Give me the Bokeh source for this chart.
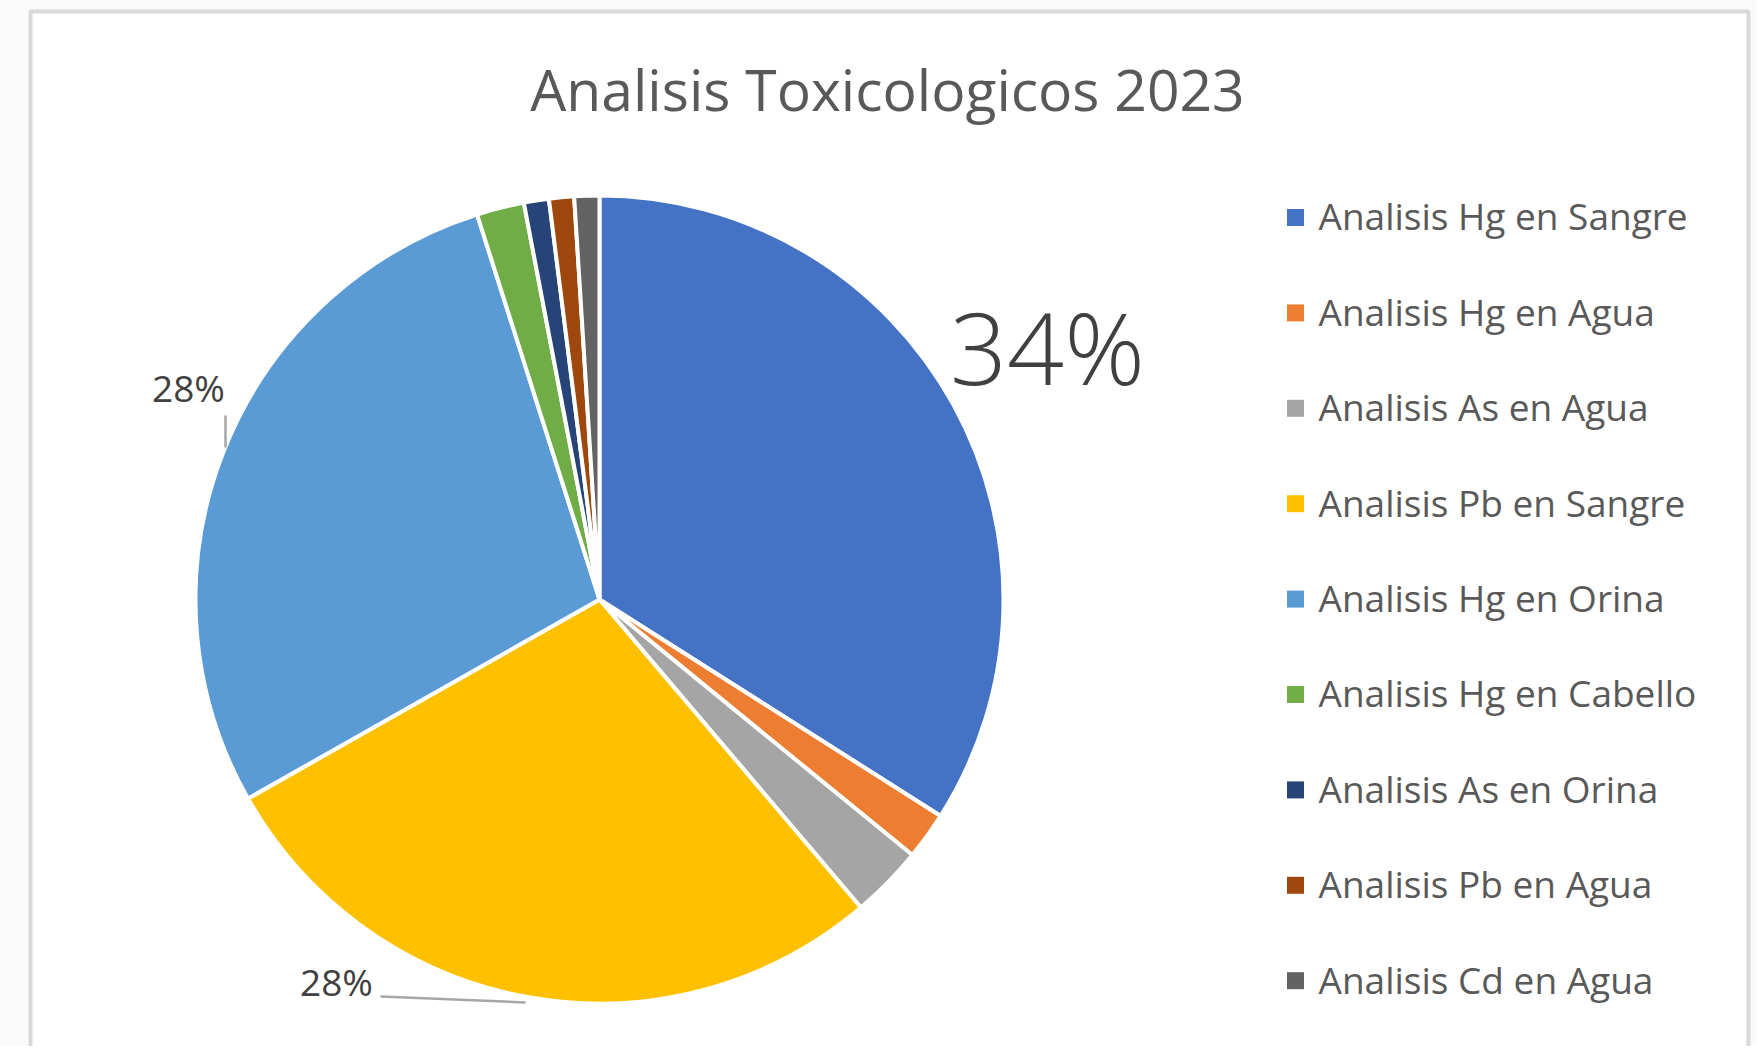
import numpy as np
from bokeh.plotting import figure
from bokeh.models import Range1d, ColumnDataSource
from bokeh.core.properties import value
from bokeh.embed import file_html
from bokeh.resources import INLINE

# ---------------- data ----------------
title = "Analisis Toxicologicos 2023"
categories = [
    "Analisis Hg en Sangre",
    "Analisis Hg en Agua",
    "Analisis As en Agua",
    "Analisis Pb en Sangre",
    "Analisis Hg en Orina",
    "Analisis Hg en Cabello",
    "Analisis As en Orina",
    "Analisis Pb en Agua",
    "Analisis Cd en Agua",
]
shares = [34.0, 1.9, 2.9, 28.0, 28.3, 1.9, 1.0, 1.0, 1.0]
colors = ["#4472C4", "#ED7D31", "#A5A5A5", "#FFC000", "#5B9BD5",
          "#70AD47", "#264478", "#9E480E", "#636363"]
labeled = [0, 3, 4]  # slices that carry a data label

# ---------------- layout ----------------
W, H = 1756, 1046
def X(px):
    return px
def Y(py):
    return H - py

BASE_SHIFT = 0.42  # rendered baseline correction (fraction of font size)
def TY(py, fs):
    return Y(py - BASE_SHIFT * fs)

FONT = value("Open Sans")
TXT = "#595959"

p = figure(width=W, height=H, x_range=Range1d(0, W), y_range=Range1d(0, H),
           output_backend="svg", toolbar_location=None, min_border=0)
p.axis.visible = False
p.grid.visible = False
p.outline_line_color = None
p.background_fill_color = "#fafafa"
p.border_fill_color = "#fafafa"

# chart area
p.quad(left=X(30), right=X(1748), top=Y(11), bottom=Y(1080),
       fill_color="white", line_color="#d9d9d9", line_width=4)

# title
p.text(x=[X(887)], y=[TY(112, 57)], text=[title], text_font=FONT,
       text_font_size="57px", text_color=TXT, text_align="center",
       text_baseline="alphabetic")

# pie
cx, cy, r = X(599), Y(599), 404
vals = np.array(shares, dtype=float)
ang = vals / vals.sum() * 2 * np.pi
cum = np.concatenate([[0.0], np.cumsum(ang)])
start = np.pi / 2 - cum[:-1]
end = np.pi / 2 - cum[1:]
src = ColumnDataSource(dict(start=start, end=end, color=colors, cat=categories))
p.wedge(x=cx, y=cy, radius=r, start_angle="start", end_angle="end",
        direction="clock", fill_color="color", line_color="white",
        line_width=4, source=src)

# data labels
pct = [f"{round(v / vals.sum() * 100):.0f}%" for v in vals]
label_pos = {0: (1048, 387, 100), 4: (188, 403, 37), 3: (336, 997, 37)}
for i in labeled:
    lx, ly, fs = label_pos[i]
    p.text(x=[X(lx)], y=[TY(ly, fs)], text=[pct[i]], text_font=FONT,
           text_font_size=f"{fs}px", text_color="#404040", text_align="center",
           text_baseline="alphabetic")

# leader lines
p.line(x=[X(225), X(225)], y=[Y(415), Y(447)], line_color="#a6a6a6", line_width=2.5)
p.line(x=[X(380), X(525)], y=[Y(996), Y(1002)], line_color="#a6a6a6", line_width=2.5)

# legend
row0, step = 217, 95.4
for i, (c, col) in enumerate(zip(categories, colors)):
    yc = row0 + i * step
    p.rect(x=[X(1295)], y=[Y(yc)], width=17, height=17, fill_color=col,
           line_color=None)
    p.text(x=[X(1318)], y=[TY(yc + 14, 37)], text=[c], text_font=FONT,
           text_font_size="37px", text_color=TXT, text_align="left",
           text_baseline="alphabetic")

open("out.html", "w").write(file_html(p, INLINE))
